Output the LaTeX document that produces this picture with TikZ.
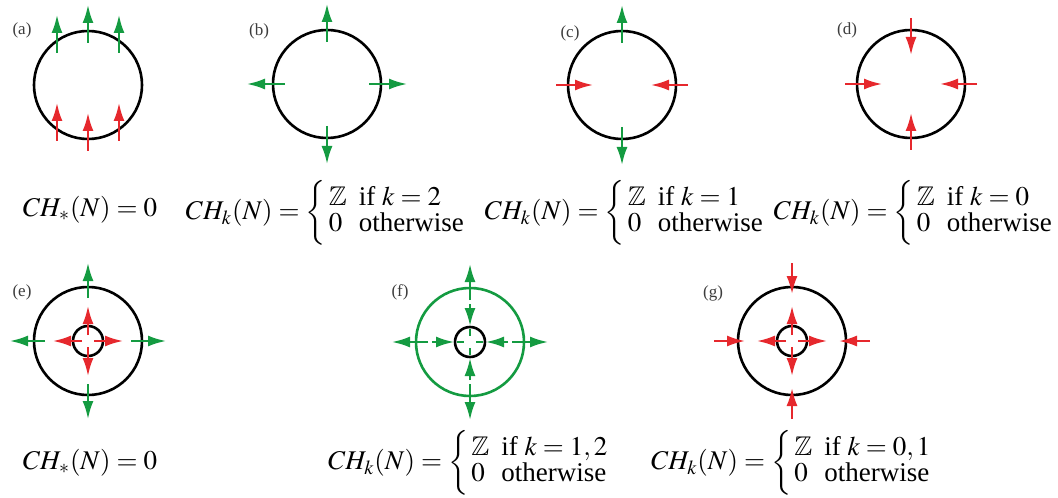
\documentclass[tikz,border=0pt]{standalone}
\usepackage{amsmath}
\usepackage{amssymb}
\usepackage{mathptmx}
\usepackage[no-math]{fontspec}
\setmainfont{Liberation Serif}
\usepackage{tikz}
\usetikzlibrary{arrows.meta,calc}

\definecolor{flowgreen}{RGB}{20,155,65}
\definecolor{flowred}{RGB}{230,40,45}
\definecolor{labgray}{RGB}{60,60,60}

\tikzset{
  ring/.style={line width=1.3pt},
  flow/.style={line width=1.1pt,-{Latex[length=9pt,width=5.5pt]}},
  exitflow/.style={flow,flowgreen},
  entryflow/.style={flow,flowred},
  panel/.style={font=\fontsize{8.5}{10}\selectfont,text=labgray},
  homology/.style={font=\fontsize{13.5}{12.2}\selectfont,inner sep=0pt}
}
\newcommand{\caseshom}[1]{$CH_k(N)=\left\{\rule[-13pt]{0pt}{26pt}\,\begin{array}{@{}l@{\;\;}l@{}}\mathbb{Z} & \text{if }#1\\ 0 & \text{otherwise}\end{array}\right.$}

\begin{document}
\begin{tikzpicture}[x=0.5pt,y=0.5pt]
    \useasboundingbox (0,0) rectangle (1058,-497);

    % Centres of the isolating neighbourhoods
    \coordinate (cA) at (88,-85);
    \coordinate (cB) at (327,-84);
    \coordinate (cC) at (622,-85);
    \coordinate (cD) at (911,-84);
    \coordinate (cE) at (88,-341);
    \coordinate (cF) at (470,-342);
    \coordinate (cG) at (792,-341);

    % Boundary circles
    \foreach \c in {cA,cB,cC,cD,cE,cG} \draw[ring] (\c) circle[radius=54];
    \draw[ring,flowgreen] (cF) circle[radius=54];
    \foreach \c in {cE,cF,cG} \draw[ring] (\c) circle[radius=15];

    % (a) flow passing straight through
    \foreach \dx/\dy in {-31/44,0/54,31/44}{
      \draw[exitflow] ($(cA)+(\dx,\dy-12)$) -- ($(cA)+(\dx,\dy+26)$);
      \draw[entryflow] ($(cA)+(\dx,-\dy-12)$) -- ($(cA)+(\dx,-\dy+26)$);
    }

    % (b), (c), (d) radial flows
    \foreach \a in {0,90,180,270} \draw[exitflow] ($(cB)+(\a:42)$) -- ($(cB)+(\a:80)$);
    \foreach \a in {90,270} \draw[exitflow] ($(cC)+(\a:42)$) -- ($(cC)+(\a:80)$);
    \foreach \a in {0,180} \draw[entryflow] ($(cC)+(\a:66)$) -- ($(cC)+(\a:29)$);
    \foreach \a in {0,90,180,270} \draw[entryflow] ($(cD)+(\a:66)$) -- ($(cD)+(\a:29)$);

    % (e), (f), (g) annuli
    \foreach \a in {0,90,180,270}{
      \draw[exitflow] ($(cE)+(\a:43)$) -- ($(cE)+(\a:78)$);
      \draw[entryflow] ($(cE)+(\a:6)$) -- ($(cE)+(\a:35)$);
      \draw[exitflow] ($(cF)+(\a:42)$) -- ($(cF)+(\a:78)$);
      \draw[exitflow] ($(cF)+(\a:38)$) -- ($(cF)+(\a:16)$);
      \draw[flowgreen,line width=1.1pt] ($(cF)+(\a:13)$) -- ($(cF)+(\a:6)$);
      \draw[entryflow] ($(cG)+(\a:78)$) -- ($(cG)+(\a:47)$);
      \draw[entryflow] ($(cG)+(\a:6)$) -- ($(cG)+(\a:35)$);
    }

    % Panel labels
    \node[panel] (labA) at (22,-30) {(a)};
    \node[panel] (labB) at (259,-31) {(b)};
    \node[panel] (labC) at (570,-33) {(c)};
    \node[panel] (labD) at (847,-30) {(d)};
    \node[panel] (labE) at (22,-292) {(e)};
    \node[panel] (labF) at (400,-292) {(f)};
    \node[panel] (labG) at (713,-293) {(g)};

    % Conley homology
    \node[homology] (homA) at (90,-210) {$CH_*(N)=0$};
    \node[homology] (homB) at (326,-213) {\caseshom{k=2}};
    \node[homology] (homC) at (625,-213) {\caseshom{k=1}};
    \node[homology] (homD) at (914,-213) {\caseshom{k=0}};
    \node[homology] (homE) at (90,-463) {$CH_*(N)=0$};
    \node[homology] (homF) at (469,-463) {\caseshom{k=1,2}};
    \node[homology] (homG) at (792,-463) {\caseshom{k=0,1}};
\end{tikzpicture}
\end{document}
